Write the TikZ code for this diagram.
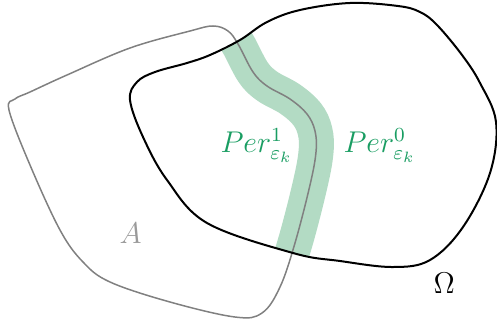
\documentclass[tikz,border=0pt]{standalone}
\usepackage{amsmath}
\usepackage{tikz}
\usetikzlibrary{positioning}
\definecolor{PerGreen}{HTML}{199D62}
\definecolor{BandGreen}{HTML}{B3DBC4}
\definecolor{SetGray}{HTML}{808080}
\definecolor{LabelGray}{HTML}{9A9A9A}

\begin{document}
\begin{tikzpicture}[x=0.4pt,y=-0.4pt,
  lbl/.style={inner sep=0pt,anchor=base west,font=\fontsize{12}{14}\selectfont}]
  \useasboundingbox (0,0) rectangle (497,320);
  \def\setA{plot[smooth cycle,tension=0.6] coordinates {(9,110)(15,99)(30,92)(67,75)(130,48)(190,31)(213,26)(228,31)(238,44)(253,72)(267,86)(290,99)(307,114)(315,131)(316,152)(310,185)(295,243)(280,287)(262,313)(235,317)(170,302)(110,282)(83,262)(60,230)(30,165)}}
  \def\setOmega{plot[smooth cycle,tension=0.6] coordinates {(210,55)(240,40)(267,22)(300,10)(350,3)(398,6)(420,12)(437,25)(462,55)(480,83)(496,122)(490,173)(463,227)(430,260)(393,267)(340,261)(293,253)(207,223)(167,180)(143,137)(130,100)(137,82)(155,72)(187,63)}}
  \begin{scope}
    \clip \setOmega;
    \draw[BandGreen,line width=14pt] \setA;
  \end{scope}
  \draw[SetGray,semithick] \setA;
  \draw[black,thick] \setOmega;
  \node[lbl,text=PerGreen] (per1) at (220,152) {$Per^1_{\varepsilon_k}$};
  \node[lbl,text=PerGreen] (per0) at (343,152) {$Per^0_{\varepsilon_k}$};
  \node[lbl,text=LabelGray] (setlbl) at (119,243) {$A$};
  \node[lbl] (omegalbl) at (433,293) {$\Omega$};
\end{tikzpicture}
\end{document}
